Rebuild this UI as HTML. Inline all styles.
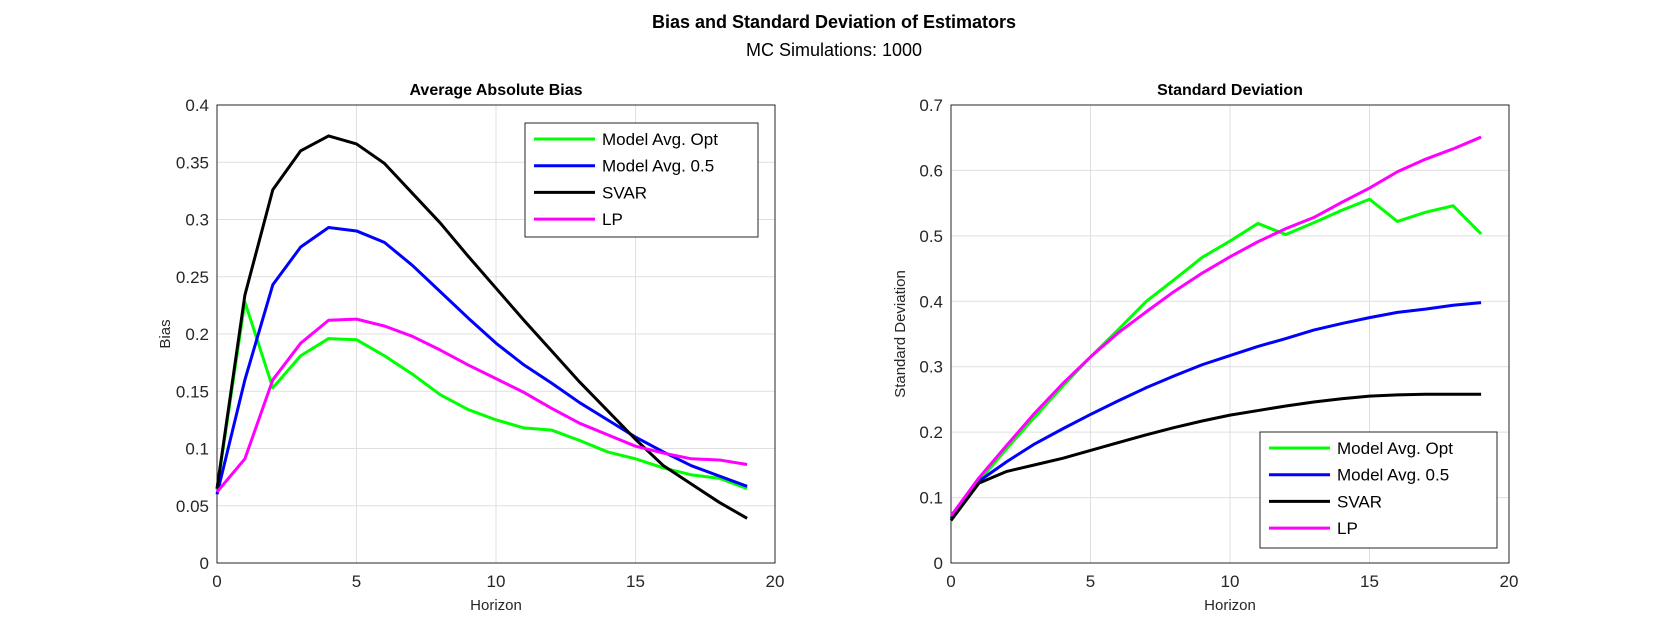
<!DOCTYPE html>
<html><head><meta charset="utf-8"><style>
body{margin:0;background:#fff;font-family:"Liberation Sans",sans-serif}
svg text{font-family:"Liberation Sans",sans-serif;fill:#262626}
</style></head><body>
<svg id="fig" width="1667" height="625" xmlns="http://www.w3.org/2000/svg">
<rect width="1667" height="625" fill="#fff"/>
<text x="834" y="28" text-anchor="middle" font-size="18" font-weight="bold" style="fill:#000">Bias and Standard Deviation of Estimators</text>
<text x="834" y="56" text-anchor="middle" font-size="18" style="fill:#000">MC Simulations: 1000</text>
</svg>
<script>
const horizons=[0,1,2,3,4,5,6,7,8,9,10,11,12,13,14,15,16,17,18,19];
const seriesNames=["Model Avg. Opt","Model Avg. 0.5","SVAR","LP"];
const biasOpt=[0.064,0.228,0.153,0.181,0.196,0.195,0.181,0.165,0.147,0.134,0.125,0.118,0.116,0.107,0.097,0.091,0.083,0.077,0.074,0.065];
const biasHalf=[0.060,0.160,0.243,0.276,0.293,0.290,0.280,0.260,0.237,0.214,0.192,0.173,0.157,0.140,0.125,0.110,0.097,0.085,0.076,0.067];
const biasSvar=[0.065,0.234,0.326,0.360,0.373,0.366,0.349,0.323,0.297,0.268,0.240,0.212,0.185,0.158,0.133,0.108,0.085,0.069,0.053,0.039];
const biasLp=[0.062,0.091,0.160,0.192,0.212,0.213,0.207,0.198,0.186,0.173,0.161,0.149,0.135,0.122,0.112,0.102,0.096,0.091,0.090,0.086];
const sdOpt=[0.070,0.125,0.175,0.223,0.270,0.315,0.357,0.400,0.433,0.467,0.492,0.519,0.502,0.520,0.539,0.556,0.522,0.536,0.546,0.503];
const sdHalf=[0.068,0.125,0.155,0.182,0.205,0.227,0.248,0.268,0.286,0.303,0.317,0.331,0.343,0.356,0.366,0.375,0.383,0.388,0.394,0.398];
const sdSvar=[0.065,0.122,0.140,0.150,0.160,0.172,0.184,0.196,0.207,0.217,0.226,0.233,0.240,0.246,0.251,0.255,0.257,0.258,0.258,0.258];
const sdLp=[0.072,0.130,0.180,0.229,0.274,0.315,0.352,0.384,0.415,0.443,0.468,0.491,0.511,0.528,0.551,0.573,0.598,0.617,0.633,0.651];
const xTicks=[0,5,10,15,20];
const biasTicks=[0,0.05,0.1,0.15,0.2,0.25,0.3,0.35,0.4];
const sdTicks=[0,0.1,0.2,0.3,0.4,0.5,0.6,0.7];
const colors=["#00ff00","#0000ff","#000000","#ff00ff"];
const NS="http://www.w3.org/2000/svg";
const svg=document.getElementById('fig');
function mk(tag,attrs,parent){const e=document.createElementNS(NS,tag);for(const k in attrs)e.setAttribute(k,attrs[k]);(parent||svg).appendChild(e);return e;}
function panel(cfg){
  const g=mk('g',{});
  
  
  const {x0,x1,y0,y1,ymax}=cfg;
  const sx=v=>x0+(v-0)/20*(x1-x0);
  const sy=v=>y0-(v/ymax)*(y0-y1);
  mk('rect',{x:x0,y:y1,width:x1-x0,height:y0-y1,fill:'#fff'},g);
  xTicks.forEach(t=>{
    const l=mk('line',{x1:sx(t),x2:sx(t),y1:y1,y2:y0,stroke:'#dfdfdf','stroke-width':1},g);
    
    
    const tx=mk('text',{x:sx(t),y:y0+24,'text-anchor':'middle','font-size':17},g);tx.textContent=t;
    
    
  });
  cfg.yTicks.forEach(t=>{
    const l=mk('line',{x1:x0,x2:x1,y1:sy(t),y2:sy(t),stroke:'#dfdfdf','stroke-width':1},g);
    
    
    const tx=mk('text',{x:x0-8,y:sy(t)+6,'text-anchor':'end','font-size':17},g);tx.textContent=t;
    
    
  });
  mk('rect',{x:x0,y:y1,width:x1-x0,height:y0-y1,fill:'none',stroke:'#262626','stroke-width':1},g);
  cfg.series.forEach((s,i)=>{
    const p=mk('polyline',{points:horizons.map((h,j)=>sx(h)+','+sy(s[j])).join(' '),fill:'none',stroke:colors[i],'stroke-width':3,'stroke-linejoin':'round'},g);
    
    
  });
  const t=mk('text',{x:(x0+x1)/2,y:y1-10,'text-anchor':'middle','font-size':16,'font-weight':'bold',style:'fill:#000'},g);t.textContent=cfg.title;
  
  
  const xl=mk('text',{x:(x0+x1)/2,y:y0+47,'text-anchor':'middle','font-size':15},g);xl.textContent='Horizon';
  
  
  const yl=mk('text',{x:0,y:0,'text-anchor':'middle','font-size':15,transform:`translate(${cfg.ylx},${(y0+y1)/2}) rotate(-90)`},g);yl.textContent=cfg.ylabel;
  
  
  const L=cfg.legend;
  const lg=mk('g',{},g);
  
  
  mk('rect',{x:L.x,y:L.y,width:L.w,height:L.h,fill:'#fff',stroke:'#262626','stroke-width':1},lg);
  seriesNames.forEach((n,i)=>{
    const yy=L.y+16+i*26.7;
    mk('line',{x1:L.x+9,x2:L.x+70,y1:yy,y2:yy,stroke:colors[i],'stroke-width':3},lg);
    const tx=mk('text',{x:L.x+77,y:yy+6,'font-size':17,style:'fill:#000'},lg);tx.textContent=n;
    
    
  });
}
panel({name:'bias-panel',title:'Average Absolute Bias',ylabel:'Bias',ylx:170,x0:217,x1:775,y0:563,y1:105,ymax:0.4,yTicks:biasTicks,series:[biasOpt,biasHalf,biasSvar,biasLp],legend:{x:525,y:123,w:233,h:114}});
panel({name:'sd-panel',title:'Standard Deviation',ylabel:'Standard Deviation',ylx:905,x0:951,x1:1509,y0:563,y1:105,ymax:0.7,yTicks:sdTicks,series:[sdOpt,sdHalf,sdSvar,sdLp],legend:{x:1260,y:432,w:237,h:116}});
</script>
</body></html>
